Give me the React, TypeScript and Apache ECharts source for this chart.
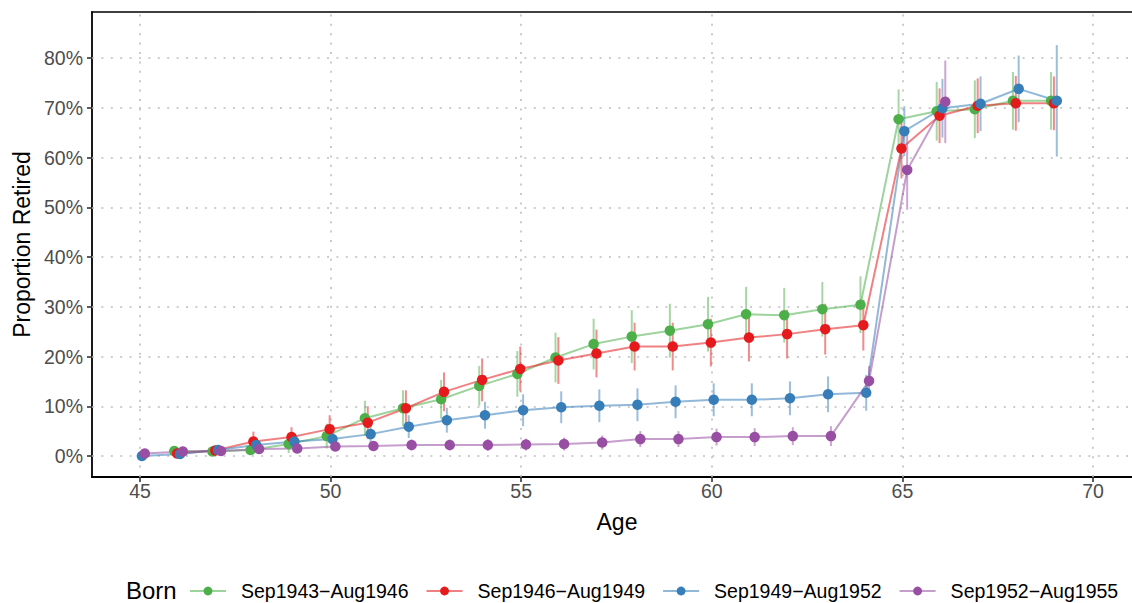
import { useEffect, useRef } from "react";
import * as echarts from "echarts";

// Age (years) at which retirement status was observed
const ages = [45, 46, 47, 48, 49, 50, 51, 52, 53, 54, 55, 56, 57, 58, 59, 60, 61, 62, 63, 64, 65, 66, 67, 68, 69];

// Birth cohorts
const cohorts = ["Sep1943−Aug1946", "Sep1946−Aug1949", "Sep1949−Aug1952", "Sep1952−Aug1955"];
const cohortColors = ["#4DAF4A", "#E41A1C", "#377EB8", "#984EA3"];
// horizontal dodge so the cohorts do not sit on top of each other
const cohortDodge = [-0.1, -0.025, 0.05, 0.125];
// first observed age for each cohort
const cohortFirstAge = [46, 46, 45, 45];

// Proportion retired (%) and half-width of the confidence interval (%)
const retired1943 = [1.0, 0.9, 1.2, 2.4, 4.0, 7.6, 9.6, 11.4, 14.1, 16.5, 19.8, 22.5, 24.0, 25.2, 26.5, 28.5, 28.3, 29.5, 30.4, 67.7, 69.3, 69.7, 71.4, 71.4];
const ci1943 = [0.8, 0.8, 1.0, 1.8, 2.5, 3.5, 3.6, 3.9, 4.0, 4.6, 5.0, 5.1, 5.3, 5.4, 5.5, 5.5, 5.5, 5.5, 5.7, 6.0, 5.9, 5.8, 5.8, 5.8];

const retired1946 = [0.5, 1.1, 2.9, 3.8, 5.4, 6.7, 9.6, 12.9, 15.3, 17.5, 19.2, 20.6, 22.0, 22.0, 22.8, 23.8, 24.5, 25.5, 26.3, 61.8, 68.4, 70.4, 70.9, 70.9];
const ci1946 = [0.6, 0.8, 2.0, 2.0, 2.8, 3.3, 3.6, 3.9, 4.3, 4.5, 4.7, 4.8, 4.8, 4.8, 4.8, 4.8, 4.9, 5.1, 5.1, 6.0, 5.5, 5.5, 5.5, 5.4];

const retired1949 = [0.0, 0.4, 1.2, 2.2, 2.9, 3.4, 4.4, 5.9, 7.2, 8.2, 9.2, 9.8, 10.1, 10.3, 10.9, 11.3, 11.3, 11.6, 12.4, 12.7, 65.3, 69.9, 70.8, 73.8, 71.4];
const ci1949 = [0.3, 0.5, 0.8, 1.2, 1.4, 1.6, 2.0, 2.3, 2.5, 2.7, 3.2, 3.2, 3.3, 3.3, 3.3, 3.3, 3.3, 3.4, 3.6, 3.6, 5.0, 5.9, 5.5, 6.7, 11.2];

const retired1952 = [0.5, 0.9, 1.0, 1.4, 1.5, 1.9, 2.0, 2.2, 2.2, 2.2, 2.3, 2.4, 2.7, 3.4, 3.4, 3.8, 3.8, 4.0, 4.0, 15.1, 57.5, 71.2];
const ci1952 = [0.3, 0.4, 0.5, 0.6, 0.8, 0.9, 1.0, 1.1, 1.1, 1.2, 1.2, 1.3, 1.4, 1.6, 1.6, 1.7, 1.8, 1.8, 2.0, 3.0, 8.0, 8.3];

const cohortValues = [retired1943, retired1946, retired1949, retired1952];
const cohortCI = [ci1943, ci1946, ci1949, ci1952];

// Axis ticks
const ageTicks = [45, 50, 55, 60, 65, 70];
const pctTicks = [0, 10, 20, 30, 40, 50, 60, 70, 80];

const FONT = '"Liberation Sans", Arial, Helvetica, sans-serif';

export default function App() {
  const ref = useRef<HTMLDivElement>(null);

  useEffect(() => {
    if (!ref.current) return;
    const chart = echarts.init(ref.current, undefined, { renderer: "svg" });

    const dotted = { color: "#bdbdbd", width: 1.6, type: [2, 7.4] as any };

    // dotted major grid lines at the tick positions
    const gridLines = {
      silent: true,
      z: 1,
      animation: false,
      symbol: ["none", "none"],
      label: { show: false },
      emphasis: { disabled: true },
      lineStyle: dotted,
      data: [...ageTicks.map((v) => ({ xAxis: v })), ...pctTicks.map((v) => ({ yAxis: v }))],
    };

    const lineSeries: any[] = [];
    const barSeries: any[] = [];
    const pointSeries: any[] = [];

    cohorts.forEach((name, i) => {
      const start = ages.indexOf(cohortFirstAge[i]);
      const vals = cohortValues[i];
      const ci = cohortCI[i];
      const pts = vals.map((v, k) => [ages[start + k] + cohortDodge[i], v]);
      const bars = vals.map((v, k) => [ages[start + k] + cohortDodge[i], v - ci[k], v + ci[k]]);
      const color = cohortColors[i];

      lineSeries.push({
        type: "line",
        name,
        data: pts,
        z: 2,
        symbol: "circle",
        symbolSize: 10,
        showSymbol: false,
        silent: true,
        color,
        lineStyle: { color, width: 2, opacity: 0.55 },
        itemStyle: { color, opacity: 1 },
        emphasis: { disabled: true },
        ...(i === 0 ? { markLine: gridLines } : {}),
      });

      barSeries.push({
        type: "custom",
        name,
        data: bars,
        z: 3,
        silent: true,
        encode: { x: 0, y: [1, 2] },
        renderItem: (_params: any, api: any) => {
          const x = api.value(0);
          const a = api.coord([x, api.value(1)]);
          const b = api.coord([x, api.value(2)]);
          return {
            type: "line",
            shape: { x1: a[0], y1: a[1], x2: b[0], y2: b[1] },
            style: { stroke: color, lineWidth: 2, opacity: 0.5 },
          };
        },
      });

      pointSeries.push({
        type: "scatter",
        name,
        data: pts,
        z: 4,
        symbol: "circle",
        symbolSize: 10.5,
        silent: true,
        itemStyle: { color, opacity: 1 },
        emphasis: { disabled: true },
      });
    });

    const xMin = 43.741;
    const xMax = 71.023;

    chart.setOption({
      animation: false,
      backgroundColor: "#ffffff",
      textStyle: { fontFamily: FONT },
      grid: { left: 92, top: 12, right: 0, height: 465 },
      xAxis: [
        {
          type: "value",
          min: xMin,
          max: xMax,
          name: "Age",
          nameLocation: "middle",
          nameGap: 33,
          nameTextStyle: { fontSize: 23, color: "#000", fontFamily: FONT, padding: [0, 0, 0, 10] },
          axisLine: { show: true, onZero: false, lineStyle: { color: "#000", width: 1.8 } },
          axisTick: { show: true, length: 5, customValues: ageTicks, lineStyle: { color: "#333", width: 1.6 } },
          axisLabel: { customValues: ageTicks, fontSize: 19.5, color: "#4d4d4d", margin: 4, fontFamily: FONT },
          splitLine: { show: false },
        },
        {
          // top edge of the panel
          type: "value",
          position: "top",
          min: xMin,
          max: xMax,
          axisLine: { show: true, onZero: false, lineStyle: { color: "#000", width: 1.5 } },
          axisTick: { show: false },
          axisLabel: { show: false },
          splitLine: { show: false },
        },
      ],
      yAxis: {
        type: "value",
        min: -4.22,
        max: 89.25,
        name: "Proportion Retired",
        nameLocation: "middle",
        nameGap: 52,
        nameTextStyle: { fontSize: 23, color: "#000", fontFamily: FONT },
        axisLine: { show: true, onZero: false, lineStyle: { color: "#000", width: 1.8 } },
        axisTick: { show: true, length: 5, customValues: pctTicks, lineStyle: { color: "#333", width: 1.6 } },
        axisLabel: {
          customValues: pctTicks,
          fontSize: 19.5,
          color: "#4d4d4d",
          margin: 9,
          fontFamily: FONT,
          formatter: (v: number) => `${Math.round(v)}%`,
        },
        splitLine: { show: false },
      },
      legend: {
        data: cohorts,
        left: 189,
        top: 581,
        padding: 0,
        itemWidth: 36,
        itemHeight: 11,
        itemGap: 17,
        selectedMode: false,
        textStyle: { fontSize: 19.5, color: "#000", fontFamily: FONT, padding: [0, 0, 0, 10] },
      },
      graphic: [
        {
          type: "text",
          left: 126,
          top: 578,
          style: { text: "Born", fontSize: 24, fill: "#000", fontFamily: FONT },
        },
      ],
      series: [...lineSeries, ...barSeries, ...pointSeries],
    });

    return () => chart.dispose();
  }, []);

  return <div ref={ref} style={{ position: "fixed", left: 0, top: 0, width: 1132, height: 603, background: "#fff" }} />;
}
